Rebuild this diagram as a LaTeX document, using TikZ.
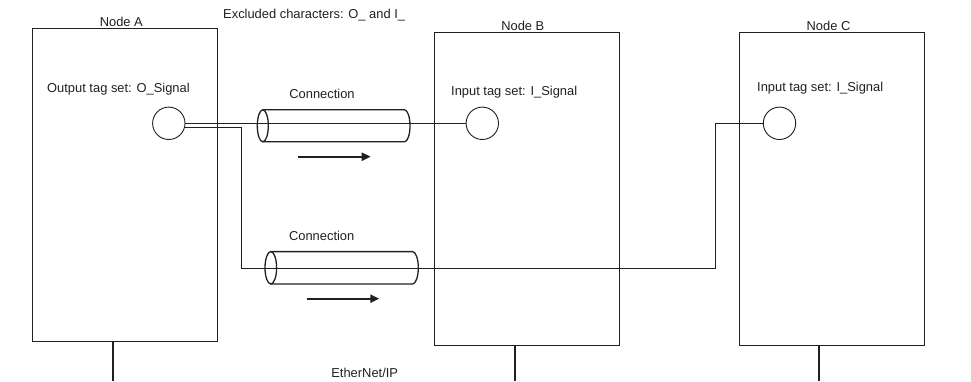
\documentclass[tikz,border=0pt]{standalone}
\usepackage{fontspec}
\setmainfont{Liberation Sans}
\usetikzlibrary{arrows.meta}
\definecolor{ink}{RGB}{35,31,32}
\begin{document}
\begin{tikzpicture}[x=1pt,y=-1pt,
  lbl/.style={font=\fontsize{12.9}{15}\selectfont, text=ink, inner sep=0pt, anchor=base},
  box/.style={draw=ink, line width=0.9pt, inner sep=0pt, outer sep=0pt},
  port/.style={circle, draw=ink, line width=0.9pt, minimum size=32.4pt, inner sep=0pt, outer sep=0pt},
  wire/.style={draw=ink, line width=0.9pt},
  cyl/.style={draw=ink, line width=1.3pt},
  flow/.style={draw=ink, line width=2pt, -{Triangle[length=9pt,width=8pt]}},
  bus/.style={draw=ink, line width=1.6pt}]
\useasboundingbox (0,0) rectangle (971,381);

% boxes
\node[box, minimum width=185.2pt, minimum height=313.2pt] (A) at (124.9,184.9) {};
\node[box, minimum width=184.7pt, minimum height=312.7pt] (B) at (526.7,188.7) {};
\node[box, minimum width=185pt, minimum height=312.7pt] (C) at (831.8,188.7) {};

% labels
\node[lbl] (tA) at (121.3,26.7) {Node A};
\node[lbl] (tB) at (522.8,30) {Node B};
\node[lbl] (tC) at (828.5,30) {Node C};
\node[lbl, anchor=base west] (ex) at (223,18.3) {Excluded characters: O\_ and I\_};
\node[lbl, anchor=base west] (oA) at (47,92.7) {Output tag set: O\_Signal};
\node[lbl, anchor=base west] (iB) at (451,95) {Input tag set: I\_Signal};
\node[lbl, anchor=base west] (iC) at (757,91.7) {Input tag set: I\_Signal};
\node[lbl] (cn1) at (322,98.5) {Connection};
\node[lbl] (cn2) at (321.7,240.7) {Connection};
\node[lbl] (en) at (364.7,377.3) {EtherNet/IP};

% ports
\node[port] (cA) at (168.8,123.3) {};
\node[port] (cB) at (482.3,123.3) {};
\node[port] (cC) at (779.5,123.3) {};

% wires
\coordinate (k1) at (241,268.5);
\coordinate (k2) at (715,268.5);
\draw[wire] (cA) -- (cB);
\draw[wire] (cA.-16) -| (k1) -- (k2) |- (cC.west);

% cylinders
\draw[cyl] (262.8,125.8) ellipse [x radius=5.5pt, y radius=16pt];
\draw[cyl] (262.8,109.8) -- (404.5,109.8) arc[start angle=90, end angle=-90, x radius=5.5pt, y radius=16pt] -- (262.8,141.8);
\draw[cyl] (270.8,267.8) ellipse [x radius=5.8pt, y radius=16.2pt];
\draw[cyl] (270.8,251.6) -- (412.5,251.6) arc[start angle=90, end angle=-90, x radius=5.8pt, y radius=16.2pt] -- (270.8,284);

% flow arrows
\coordinate (f1s) at (298.3,156.7);
\coordinate (f1e) at (370.7,156.7);
\coordinate (f2s) at (306.7,298.7);
\coordinate (f2e) at (379.3,298.7);
\draw[flow] (f1s) -- (f1e);
\draw[flow] (f2s) -- (f2e);

% network drops
\coordinate (eA) at (113,381);
\coordinate (eB) at (515,381);
\coordinate (eC) at (819,381);
\draw[bus] (eA |- A.south) -- (eA);
\draw[bus] (eB |- B.south) -- (eB);
\draw[bus] (eC |- C.south) -- (eC);
\end{tikzpicture}
\end{document}
